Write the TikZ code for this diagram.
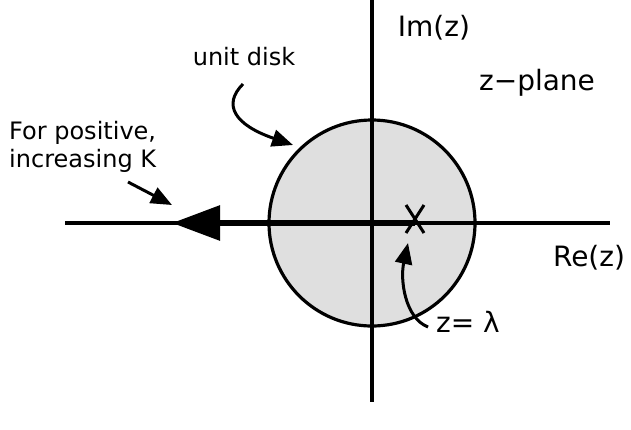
\documentclass[tikz,border=0pt]{standalone}
\usepackage{fontspec}
\setmainfont{DejaVu Sans}
\usetikzlibrary{arrows.meta}
\begin{document}
\begin{tikzpicture}[x=1pt,y=-1pt,
  lbl/.style={font=\fontsize{28}{30}\selectfont, inner sep=0pt},
  small/.style={font=\fontsize{24}{28}\selectfont, inner sep=0pt, align=left},
  ptr/.style={line width=3pt, -{Triangle[length=21pt,width=17pt]}},
  axis/.style={line width=3.2pt}]
\useasboundingbox (0,0) rectangle (631,429);
\fill[white] (0,0) rectangle (631,429);
\node[circle, draw, line width=3.2pt, fill=gray!25, minimum size=206pt, inner sep=0pt] (disk) at (372,223) {};
\coordinate (xl) at (65,223);
\coordinate (xr) at (610,223);
\coordinate (yt) at (372,0);
\coordinate (yb) at (372,402);
\draw[axis] (xl) -- (xr);
\draw[axis] (yt) -- (yb);
\coordinate (pole) at (415,219);
\coordinate (start) at (415,223);
\coordinate (locus) at (172,223);
\draw[line width=6pt, -{Triangle[length=48pt,width=34pt]}] (start) -- (locus);
\draw[line width=3pt] ([shift={(-9,-14)}]pole) -- ([shift={(9,14)}]pole)
  ([shift={(9,-14)}]pole) -- ([shift={(-9,14)}]pole);
\node[lbl] (im) at (434,28) {Im(z)};
\node[lbl, anchor=base] (zp) at (537,90) {z−plane};
\node[lbl] (re) at (589,258) {Re(z)};
\node[small, anchor=base] (ud) at (244,65) {unit disk};
\node[small, anchor=base west] (fp) at (9,139) {For positive,};
\node[small, anchor=base west] (fp2) at (9,167) {increasing K};
\node[lbl] (zl) at (468,322) {z= λ};
\coordinate (udtip) at (293,145);
\draw[ptr] (243,84) .. controls (222,105) and (235,125) .. (udtip);
\draw[ptr] (128,182) -- (172,205);
\draw[ptr] (428,327) .. controls (405,318) and (400,280) .. (408,243);
\end{tikzpicture}
\end{document}
